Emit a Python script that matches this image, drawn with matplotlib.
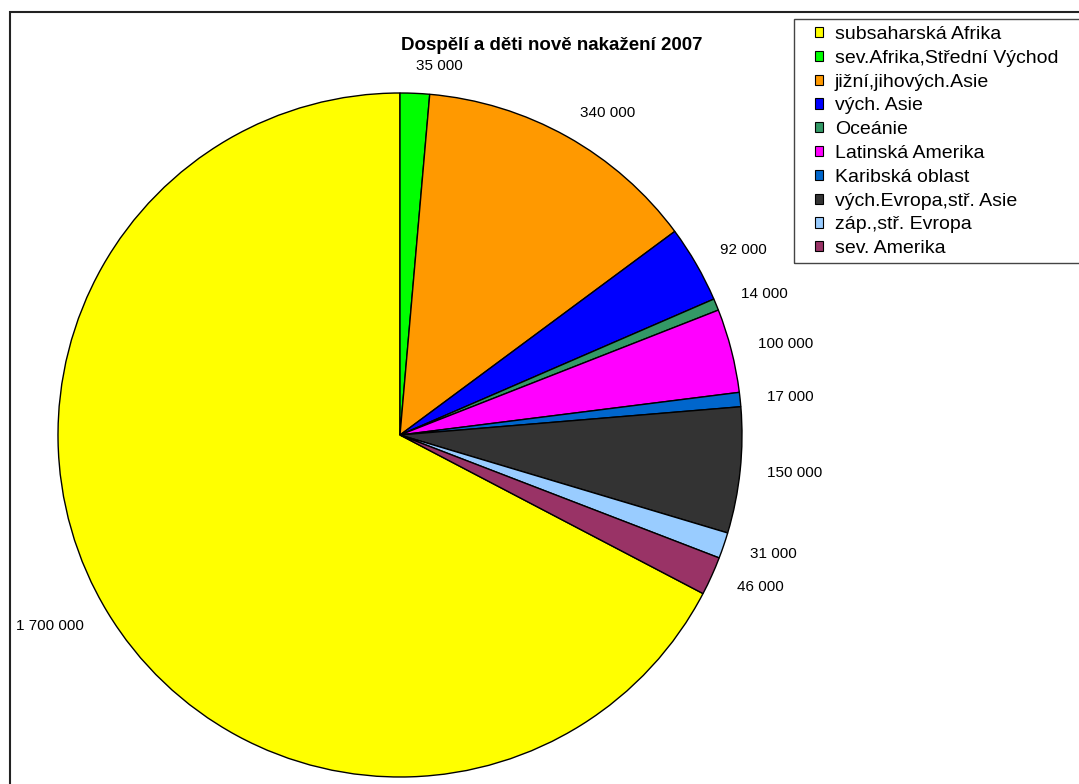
import matplotlib.pyplot as plt
from matplotlib.patches import Rectangle

plt.rcParams['font.family'] = ['Liberation Sans', 'DejaVu Sans']

# data --->
regions = ['subsaharská Afrika', 'sev.Afrika,Střední Východ', 'jižní,jihových.Asie',
           'vých. Asie', 'Oceánie', 'Latinská Amerika', 'Karibská oblast',
           'vých.Evropa,stř. Asie', 'záp.,stř. Evropa', 'sev. Amerika']
cases = [1700000, 35000, 340000, 92000, 14000, 100000, 17000, 150000, 31000, 46000]
value_labels = ['1 700 000', '35 000', '340 000', '92 000', '14 000',
                '100 000', '17 000', '150 000', '31 000', '46 000']
colors = ['#FFFF00', '#00FF00', '#FF9900', '#0000FF', '#339966',
          '#FF00FF', '#0066CC', '#333333', '#99CCFF', '#993366']
# <--- data

W, H = 1079, 784
fig = plt.figure(figsize=(W / 100, H / 100), dpi=100)

# pie axes: centre (400, 435) px, radius 342 px
cx, cy, R = 400, 435, 342
ax = fig.add_axes([(cx - R) / W, (H - cy - R) / H, 2 * R / W, 2 * R / H])

# first slice ends at 12 o'clock, clockwise
start = 90 + 360 * cases[0] / sum(cases)
wedges, texts = ax.pie(cases, labels=value_labels, colors=colors, startangle=start,
                       counterclock=False, labeldistance=1.08,
                       wedgeprops=dict(edgecolor='black', linewidth=1),
                       textprops=dict(fontsize=11, color='black'))
ax.set_xlim(-1, 1)
ax.set_ylim(-1, 1)
ax.set_aspect('equal')

fig.text(552 / W, 1 - 46 / H, 'Dospělí a děti nově nakažení 2007', ha='center', va='center',
         fontsize=13.5, fontweight='bold')

# outer chart frame
fig.add_artist(Rectangle((10 / W, -0.05), 1.1, 1 - 12 / H + 0.05, transform=fig.transFigure,
                         fill=False, edgecolor='#222222', linewidth=1.5))

# legend box
fig.add_artist(Rectangle((794 / W, 1 - 263 / H), 1.1, (263 - 19) / H, transform=fig.transFigure,
                         fill=False, edgecolor='#444444', linewidth=1))
leg = fig.legend(wedges, regions, loc='upper left', bbox_to_anchor=(815 / W, 1 - 26 / H),
                 frameon=False, fontsize=14, borderpad=0, borderaxespad=0,
                 handlelength=0.42, handleheight=0.42, handletextpad=0.6, labelspacing=0.35)
for h in leg.legend_handles:
    h.set_linewidth(0.8)

fig.savefig('out.png', dpi=100)
